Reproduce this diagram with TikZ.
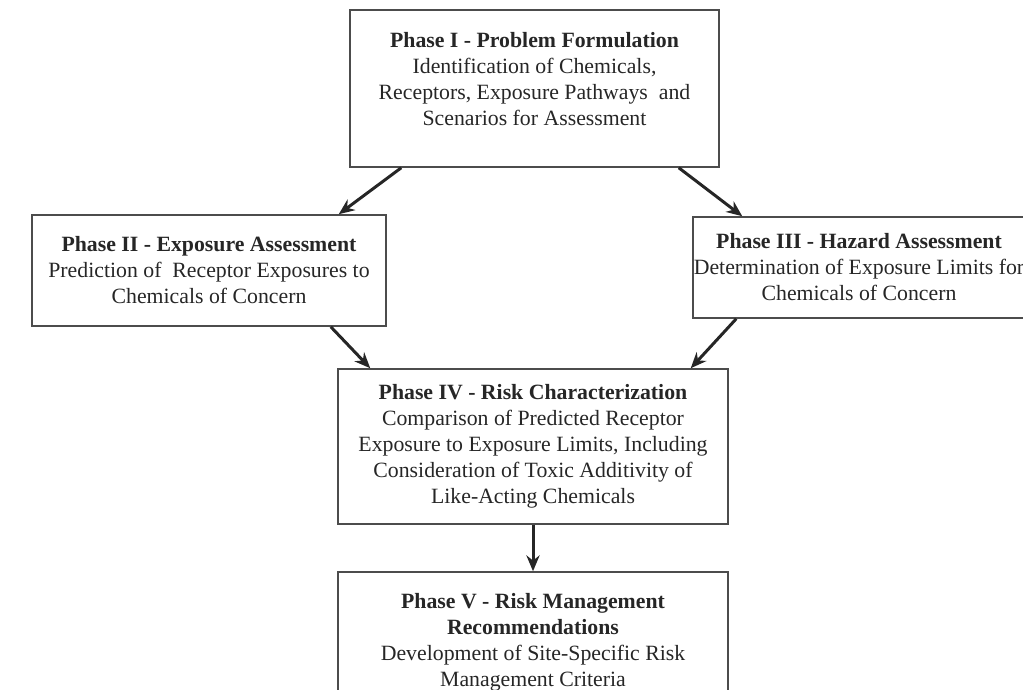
\documentclass[tikz,border=0pt]{standalone}
\usepackage{fontspec}
\setmainfont{Liberation Serif}
\usetikzlibrary{arrows.meta,calc}

\tikzset{
	phase/.style={draw=black!70, line width=0.9pt, text=black!85, align=center, inner sep=0pt, font=\fontsize{12.4}{14.8}\selectfont},
	flow/.style={->, line width=1.7pt, draw=black!85}
}

\begin{document}
\begin{tikzpicture}[x=0.02cm,y=-0.02cm,>={Stealth[length=9pt,width=7.5pt]}]
		\clip (0,0) rectangle (1023,689);
		\node[phase,minimum width=7.38cm,minimum height=3.14cm] (p1) at (534.5,88.5)
			{\textbf{Phase I - Problem Formulation}\\Identification of Chemicals,\\Receptors, Exposure Pathways~ and\\Scenarios for Assessment\\[-0.15cm]};
		\node[phase,minimum width=7.08cm,minimum height=2.22cm] (p2) at (209,270.5)
			{\textbf{Phase II - Exposure Assessment}\\Prediction of~ Receptor Exposures to\\Chemicals of Concern};
		\node[phase,minimum width=6.64cm,minimum height=2.02cm] (p3) at (859,267.5)
			{\textbf{Phase III - Hazard Assessment}\\Determination of Exposure Limits for\\Chemicals of Concern};
		\node[phase,minimum width=7.8cm,minimum height=3.1cm] (p4) at (533,446.5)
			{\textbf{Phase IV - Risk Characterization}\\Comparison of Predicted Receptor\\Exposure to Exposure Limits, Including\\Consideration of Toxic Additivity of\\Like-Acting Chemicals};
		\node[phase,minimum width=7.8cm,minimum height=2.82cm] (p5) at (533,642.5)
			{\textbf{Phase V - Risk Management}\\\textbf{Recommendations}\\Development of Site-Specific Risk\\Management Criteria};
		% arrows between phases
		\draw[flow] ($(p1.south west)+(52,0)$)--($(p2.north east)+(-48,0)$);
		\draw[flow] ($(p1.south east)+(-41,0)$)--($(p3.north west)+(50,0)$);
		\draw[flow] ($(p2.south east)+(-56,0)$)--($(p4.north west)+(33,0)$);
		\draw[flow] ($(p3.south west)+(44,0)$)--($(p4.north east)+(-38,0)$);
		\draw[flow] (p4.south)--(p5.north);
	\end{tikzpicture}
\end{document}
